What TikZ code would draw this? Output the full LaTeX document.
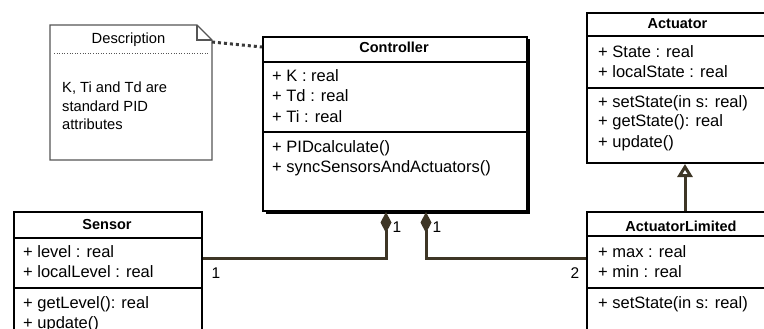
\documentclass[tikz,border=0pt]{standalone}
\usepackage{fontspec}
\setmainfont{Liberation Sans}
\usetikzlibrary{arrows.meta,shadows}
\definecolor{linkcol}{RGB}{62,54,38}
\definecolor{notecol}{RGB}{85,85,85}

\begin{document}
\begin{tikzpicture}[
		x=1pt, y=-1pt,
		font=\fontsize{16.5}{20}\selectfont,
		classbox/.style={draw, line width=2pt, fill=white, anchor=north west, inner sep=0},
		sepline/.style={line width=2pt},
		title/.style={anchor=base, inner sep=0, font=\fontsize{14.5}{18}\selectfont\bfseries},
		member/.style={anchor=base west, inner sep=0},
		notetext/.style={inner sep=0, font=\fontsize{14.7}{18}\selectfont},
		link/.style={draw=linkcol, line width=3pt},
		mult/.style={inner sep=0, font=\fontsize{15.5}{18}\selectfont}
		]
		\useasboundingbox (0,0) rectangle (764,329);
		\clip (0,0) rectangle (764,329);

		% note
		\draw[notecol, line width=1.2pt, fill=white] (50,25) -- (197,25) -- (212,40) -- (212,160) -- (50,160) -- cycle;
		\draw[notecol, line width=1.2pt] (197,25) -- (197,40) -- (212,40);
		\coordinate (notecorner) at (212,42);
		\draw[notecol, dotted, line width=0.6pt] (54,53.5) -- (208,53.5);
		\node[notetext, anchor=base] (notetitle) at (128.5,44) {Description};
		\node[notetext, anchor=base west] (note1) at (62,93) {K, Ti and Td are};
		\node[notetext, anchor=base west] (note2) at (62,111) {standard PID};
		\node[notetext, anchor=base west] (note3) at (62,129) {attributes};

		% Controller
		\node[classbox, minimum width=264pt, minimum height=174pt,
			drop shadow={shadow xshift=2.5pt, shadow yshift=-2.5pt, fill=black, opacity=1}] (ctrl) at (262,36) {};
		\draw[sepline] ([yshift=-26pt]ctrl.north west) -- ([yshift=-26pt]ctrl.north east);
		\draw[sepline] ([yshift=-96pt]ctrl.north west) -- ([yshift=-96pt]ctrl.north east);
		\node[title] (ctrlname) at (394,53) {Controller};
		\node[member] (ctrlk) at (272,82) {+ K : real};
		\node[member] (ctrltd) at (272,102) {+ Td : real};
		\node[member] (ctrlti) at (272,122) {+ Ti : real};
		\node[member] (ctrlpid) at (272,152) {+ PIDcalculate()};
		\node[member] (ctrlsync) at (272,172) {+ syncSensorsAndActuators()};

		\draw[notecol!70!black, line width=3pt, dash pattern=on 3pt off 3pt] (notecorner) -- ([yshift=-11pt]ctrl.north west);

		% Actuator
		\node[classbox, minimum width=183pt, minimum height=150pt] (act) at (586,12) {};
		\draw[sepline] ([yshift=-24pt]act.north west) -- ([yshift=-24pt]act.north east);
		\draw[sepline] ([yshift=-76pt]act.north west) -- ([yshift=-76pt]act.north east);
		\node[title] (actname) at (677.5,29) {Actuator};
		\node[member] (actstate) at (598,58) {+ State : real};
		\node[member] (actlocal) at (598,78) {+ localState : real};
		\node[member] (actset) at (598,107) {+ setState(in s: real)};
		\node[member] (actget) at (598,127) {+ getState(): real};
		\node[member] (actupd) at (598,147) {+ update()};

		% ActuatorLimited
		\node[classbox, minimum width=190pt, minimum height=140pt] (actl) at (586,211) {};
		\draw[sepline] ([yshift=-25pt]actl.north west) -- ([yshift=-25pt]actl.north east);
		\draw[sepline] ([yshift=-76.5pt]actl.north west) -- ([yshift=-76.5pt]actl.north east);
		\node[title] (actlname) at (681,231) {ActuatorLimited};
		\node[member] (actlmax) at (598,257) {+ max : real};
		\node[member] (actlmin) at (598,277) {+ min : real};
		\node[member] (actlset) at (598,308) {+ setState(in s: real)};

		% Sensor
		\node[classbox, minimum width=188pt, minimum height=140pt] (sens) at (13,211) {};
		\draw[sepline] ([yshift=-26.5pt]sens.north west) -- ([yshift=-26.5pt]sens.north east);
		\draw[sepline] ([yshift=-76.5pt]sens.north west) -- ([yshift=-76.5pt]sens.north east);
		\node[title] (sensname) at (107,229) {Sensor};
		\node[member] (senslevel) at (23,257) {+ level : real};
		\node[member] (senslocal) at (23,277) {+ localLevel : real};
		\node[member] (sensget) at (23,308) {+ getLevel(): real};
		\node[member] (sensupd) at (23,328) {+ update()};

		% connectors
		\draw[link, -{Diamond[length=21pt, width=11pt]}] ([yshift=-47pt]sens.north east) -| ([xshift=-9pt]ctrl.south);
		\draw[link, -{Diamond[length=21pt, width=11pt]}] ([yshift=-47pt]actl.north west) -| ([xshift=31pt]ctrl.south);
		\draw[link, -{Triangle[length=13pt, width=15pt, fill=white]}] ([xshift=3pt]actl.north) -- ([xshift=3pt]actl.north |- act.south);

		\node[mult] (m1) at (216,273) {1};
		\node[mult] (m2) at (397,227) {1};
		\node[mult] (m3) at (437,227) {1};
		\node[mult] (m4) at (575,273) {2};
	\end{tikzpicture}
\end{document}
